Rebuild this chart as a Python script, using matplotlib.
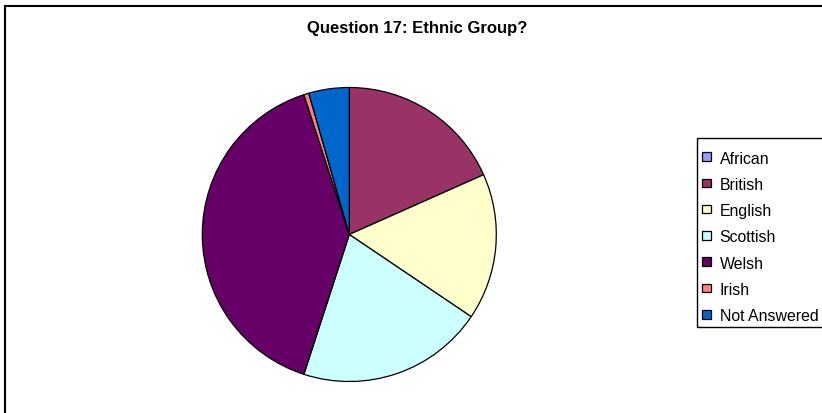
import matplotlib
matplotlib.use("Agg")
import matplotlib.pyplot as plt
from matplotlib.patches import Rectangle

plt.rcParams['font.family'] = ['Liberation Sans', 'DejaVu Sans']

title = "Question 17: Ethnic Group?"
categories = ["African", "British", "English", "Scottish", "Welsh", "Irish", "Not Answered"]
counts = [0, 33, 29, 37, 72, 1, 8]
colors = ["#9999FF", "#993366", "#FFFFCC", "#CCFFFF", "#660066", "#FF8080", "#0066CC"]

W, H = 822, 414
fig = plt.figure(figsize=(W / 100, H / 100), dpi=100)
fig.patch.set_facecolor("white")


def fx(px):
    return px / W


def fy(py):
    return 1 - py / H


# chart area border (runs off the right and bottom edges)
fig.add_artist(Rectangle((fx(5), -0.1), 1.2, fy(7) + 0.1, transform=fig.transFigure,
                         fill=False, edgecolor="black", linewidth=1.5))

fig.text(fx(417), fy(29), title, ha="center", va="center",
         fontsize=12, fontweight="bold")

cx, cy, r = 349.3, 235.5, 147.0
ax = fig.add_axes([fx(cx - r), fy(cy + r), 2 * r / W, 2 * r / H])
ax.pie(counts, colors=colors, startangle=90, counterclock=False, radius=1.0,
       wedgeprops=dict(edgecolor="black", linewidth=0.9))
ax.set_xlim(-1.0, 1.0)
ax.set_ylim(-1.0, 1.0)
ax.set_aspect("equal")
ax.axis("off")

# legend box with square swatches, laid out in pixel units
lx0, ly0, ly1 = 697, 139, 328
fig.add_artist(Rectangle((fx(lx0), fy(ly1)), 1.0, (ly1 - ly0) / H, transform=fig.transFigure,
                         fill=False, edgecolor="black", linewidth=1.0))
row0, step, sw = 157.5, 26.3, 8.5
for i, (name, col) in enumerate(zip(categories, colors)):
    yc = row0 + i * step
    fig.add_artist(Rectangle((fx(702), fy(yc + sw / 2)), sw / W, sw / H,
                             transform=fig.transFigure, facecolor=col,
                             edgecolor="black", linewidth=0.9))
    fig.text(fx(719.5), fy(yc), name, ha="left", va="center_baseline", fontsize=11.4)

fig.savefig("out.png", dpi=100)
